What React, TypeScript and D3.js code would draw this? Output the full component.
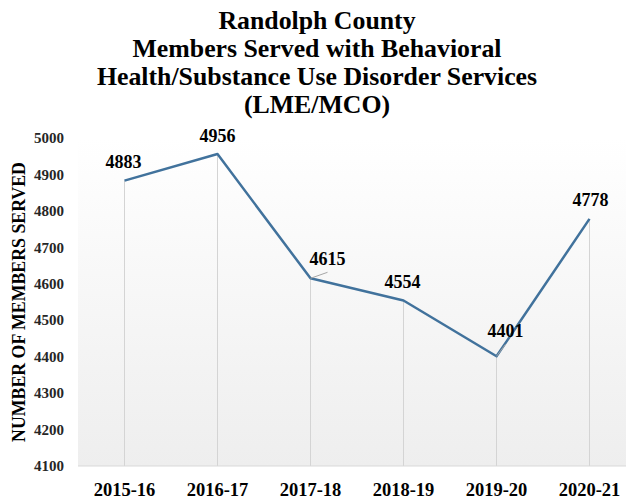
import * as d3 from 'd3';

const years = ['2015-16', '2016-17', '2017-18', '2018-19', '2019-20', '2020-21'];
const members = [4883, 4956, 4615, 4554, 4401, 4778];
const yTicks = [4100, 4200, 4300, 4400, 4500, 4600, 4700, 4800, 4900, 5000];
const titleLines = [
  'Randolph County',
  'Members Served with Behavioral',
  'Health/Substance Use Disorder Services',
  '(LME/MCO)',
];
// label offsets relative to point (dx, dy) and whether a leader line is drawn
const labelOffsets: [number, number, boolean][] = [
  [-1, -13, false],
  [0, -12, false],
  [17, -13, true],
  [-1, -13, false],
  [9, -19, true],
  [1, -13, false],
];

export default function App() {
  const width = 626;
  const height = 504;
  const plot = { left: 78, right: 636, top: 138, bottom: 466 };
  const font = '"Liberation Serif", "Times New Roman", serif';

  const x = d3.scalePoint<string>().domain(years).range([plot.left, plot.right]).padding(0.5);
  const y = d3.scaleLinear().domain([4100, 5000]).range([plot.bottom, plot.top]);

  const line = d3
    .line<number>()
    .x((_, i) => x(years[i])!)
    .y((d) => y(d));

  return (
    <svg width={width} height={height} style={{ position: 'absolute', left: 0, top: 0, background: '#fff' }}>
      <defs>
        <linearGradient id="bg" x1="0" y1="0" x2="0" y2="1">
          <stop offset="0%" stopColor="#ffffff" />
          <stop offset="100%" stopColor="#eeeeee" />
        </linearGradient>
      </defs>
      {titleLines.map((t, i) => (
        <text
          key={t}
          x={317}
          y={29 + i * 28}
          textAnchor="middle"
          fontFamily={font}
          fontWeight="bold"
          fontSize={25.8}
          fill="#000"
        >
          {t}
        </text>
      ))}

      {/* plot background */}
      <rect x={plot.left} y={plot.top} width={width - plot.left} height={plot.bottom - plot.top} fill="url(#bg)" />

      {/* drop lines */}
      {members.map((v, i) => (
        <line
          key={'d' + i}
          x1={x(years[i])}
          x2={x(years[i])}
          y1={y(v)}
          y2={plot.bottom}
          stroke="#d4d4d4"
          strokeWidth={1}
        />
      ))}
      <line x1={plot.left} x2={width} y1={plot.bottom} y2={plot.bottom} stroke="#d9d9d9" strokeWidth={1} />

      {/* y ticks */}
      {yTicks.map((t) => (
        <text
          key={t}
          x={64}
          y={y(t)}
          dy="0.35em"
          textAnchor="end"
          fontFamily={font}
          fontWeight="bold"
          fontSize={15}
          fill="#262626"
        >
          {t}
        </text>
      ))}

      {/* x ticks */}
      {years.map((yr) => (
        <text
          key={yr}
          x={x(yr)}
          y={496}
          textAnchor="middle"
          fontFamily={font}
          fontWeight="bold"
          fontSize={18.5}
          fill="#000"
        >
          {yr}
        </text>
      ))}

      <text
        transform="translate(25,302) rotate(-90)"
        textAnchor="middle"
        fontFamily={font}
        fontWeight="bold"
        fontSize={17.8}
        fill="#000"
      >
        NUMBER OF MEMBERS SERVED
      </text>

      <path d={line(members)!} fill="none" stroke="#41729c" strokeWidth={2.5} strokeLinejoin="round" />

      {members.map((v, i) => {
        const px = x(years[i])!;
        const py = y(v);
        const [dx, dy, leader] = labelOffsets[i];
        return (
          <g key={'l' + i}>
            {leader && (
              <line x1={px} y1={py} x2={px + dx} y2={py + dy + 7} stroke="#a6a6a6" strokeWidth={1} />
            )}
            <text
              x={px + dx}
              y={py + dy}
              textAnchor="middle"
              fontFamily={font}
              fontWeight="bold"
              fontSize={18}
              fill="#000"
            >
              {v}
            </text>
          </g>
        );
      })}
    </svg>
  );
}
